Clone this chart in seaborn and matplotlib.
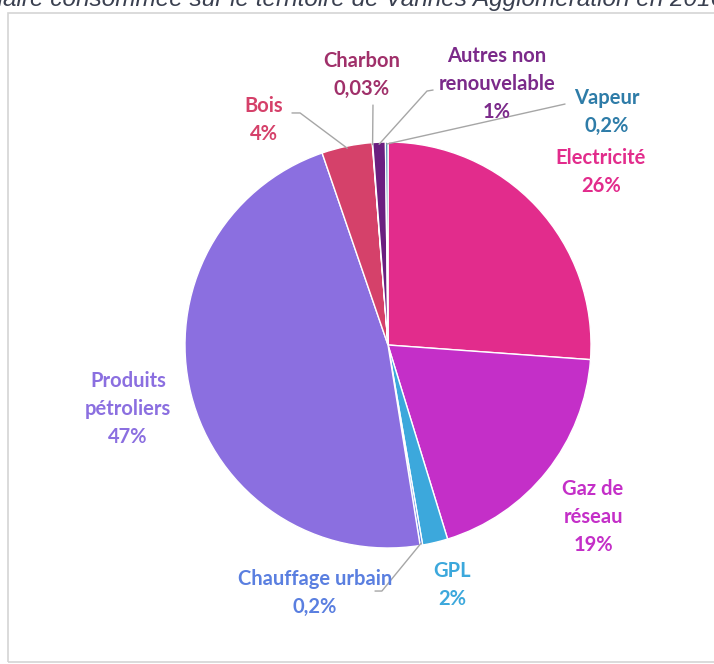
import numpy as np
import matplotlib
matplotlib.use("Agg")
import matplotlib.pyplot as plt
import seaborn as sns
from matplotlib.patches import Rectangle

# ---------------------------------------------------------------------------
# Data (shares in %, clockwise from 12 o'clock)
# ---------------------------------------------------------------------------
sources = ["Electricité", "Gaz de\nréseau", "GPL", "Chauffage urbain",
           "Produits\npétroliers", "Bois", "Charbon",
           "Autres non\nrenouvelable", "Vapeur"]
shares = [26, 19, 2, 0.2, 47, 4, 0.03, 1, 0.2]
share_labels = ["26%", "19%", "2%", "0,2%", "47%", "4%", "0,03%", "1%", "0,2%"]

wedge_colors = ["#E22C8C", "#C42FC8", "#3CA8DC", "#5A7FE0", "#8B6FE0",
                "#D5416A", "#A0306A", "#6B1F80", "#2E7CA8"]
text_colors = ["#E22C8C", "#C42FC8", "#3CA8DC", "#5A7FE0", "#8B6FE0",
               "#D5416A", "#A0306A", "#7B2A8A", "#2E7CA8"]

# label centres (axes data units, pie radius = 1)
label_pos = [(1.049, 0.852), (1.010, -0.847), (0.315, -1.182), (-0.360, -1.222),
             (-1.281, -0.315), (-0.611, 1.108), (-0.128, 1.330),
             (0.537, 1.286), (1.079, 1.148)]
# leader line start points (None = no leader line)
leader_pts = [None, None, None, [(-0.064, -1.212), (-0.030, -1.212)],
              None, [(-0.473, 1.143), (-0.433, 1.143)], [(-0.074, 1.182)],
              [(0.222, 1.256), (0.192, 1.251)], [(0.872, 1.187)]]

# ---------------------------------------------------------------------------
# Figure
# ---------------------------------------------------------------------------
sns.set_theme(style="white")
plt.rcParams["font.family"] = ["Lato", "DejaVu Sans"]

W, H = 714, 664
fig = plt.figure(figsize=(W / 100, H / 100), dpi=100)

# outer frame of the chart area
fig.patches.append(Rectangle((8 / W, 2 / H), 1.2, 649 / H, transform=fig.transFigure,
                             fill=False, edgecolor="#D4D4D4", linewidth=1.2))

# title, cropped at the top edge as in the source image
fig.text(724 / W, 1 - 6 / H,
         "Répartition de l'énergie primaire consommée sur le territoire de Vannes Agglomération en 2016",
         ha="right", va="baseline", fontsize=17.6, style="italic",
         color="#3A4050", family=["Liberation Sans", "DejaVu Sans"])

cx, cy, r = 388, 345, 203
ax = fig.add_axes([(cx - r) / W, (H - cy - r) / H, 2 * r / W, 2 * r / H])
wedges, _ = ax.pie(shares, colors=wedge_colors, startangle=90, counterclock=False,
                   radius=1, wedgeprops=dict(edgecolor="white", linewidth=1))
ax.set_xlim(-1, 1)
ax.set_ylim(-1, 1)
ax.set_aspect("equal")
ax.axis("off")

for i, w in enumerate(wedges):
    lx, ly = label_pos[i]
    ax.text(lx, ly, f"{sources[i]}\n{share_labels[i]}", ha="center", va="center",
            fontsize=14.5, fontweight="bold", color=text_colors[i],
            linespacing=1.5, clip_on=False)
    if leader_pts[i] is not None:
        mid = np.deg2rad((w.theta1 + w.theta2) / 2)
        pts = leader_pts[i] + [(0.99 * np.cos(mid), 0.99 * np.sin(mid))]
        xs, ys = zip(*pts)
        ax.plot(xs, ys, color="#A6A6A6", linewidth=1, clip_on=False)

fig.savefig("out.png", dpi=100)
